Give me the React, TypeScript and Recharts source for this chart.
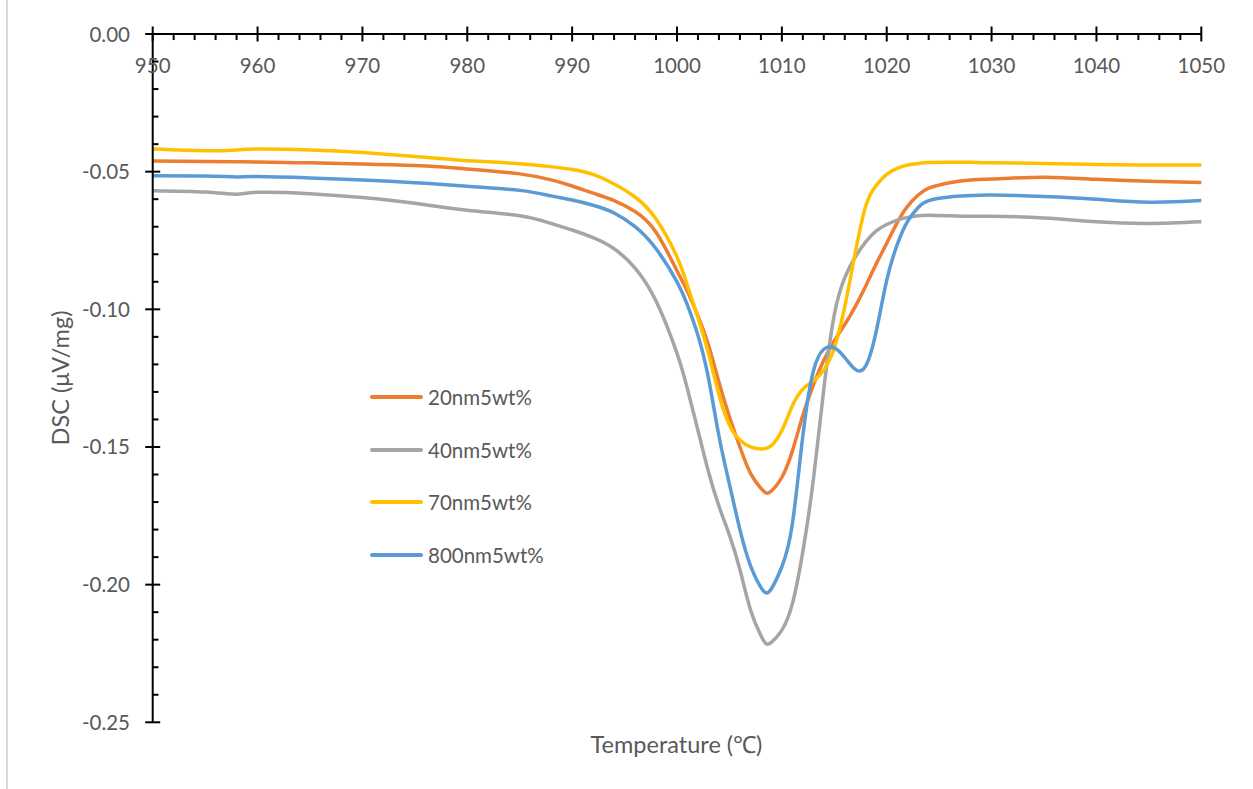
import React from "react";
import { LineChart, Line, XAxis, YAxis, ReferenceLine } from "recharts";

const temps = [950,955,958,960,965,970,975,980,985,988,990,992,994,996,998,1000,1001,1002,1003,1004,1005,1006,1007,1008,1008.5,1009,1010,1011,1012,1013,1014,1015,1016,1017,1018,1019,1020,1021,1022,1023,1024,1026,1028,1030,1035,1040,1045,1050];

const s20nm = [-0.0461,-0.0463,-0.0464,-0.0465,-0.0468,-0.0472,-0.0478,-0.0490,-0.0508,-0.0530,
  -0.0552,-0.0578,-0.0605,-0.0645,-0.0720,-0.0860,-0.0935,-0.1025,-0.1130,-0.1265,
  -0.1390,-0.1500,-0.1595,-0.1650,-0.1667,-0.1660,-0.1610,-0.1515,-0.1385,-0.1275,
  -0.1185,-0.1115,-0.1055,-0.0990,-0.0915,-0.0835,-0.0760,-0.0685,-0.0625,-0.0585,
  -0.0560,-0.0540,-0.0530,-0.0527,-0.0520,-0.0528,-0.0535,-0.0539];

const s40nm = [-0.0569,-0.0574,-0.0582,-0.0575,-0.0580,-0.0594,-0.0615,-0.0640,-0.0660,-0.0688,
  -0.0712,-0.0740,-0.0780,-0.0850,-0.0970,-0.1160,-0.1290,-0.1440,-0.1590,-0.1715,
  -0.1820,-0.1945,-0.2090,-0.2185,-0.2215,-0.2210,-0.2165,-0.2070,-0.1880,-0.1620,
  -0.1290,-0.1020,-0.0885,-0.0810,-0.0755,-0.0715,-0.0692,-0.0676,-0.0666,-0.0660,
  -0.0658,-0.0660,-0.0662,-0.0662,-0.0668,-0.0682,-0.0688,-0.0682];

const s70nm = [-0.0418,-0.0424,-0.0421,-0.0418,-0.0421,-0.0430,-0.0445,-0.0460,-0.0471,-0.0482,
  -0.0492,-0.0510,-0.0545,-0.0592,-0.0672,-0.0810,-0.0915,-0.1030,-0.1160,-0.1310,
  -0.1420,-0.1475,-0.1500,-0.1507,-0.1505,-0.1495,-0.1440,-0.1350,-0.1290,-0.1260,
  -0.1220,-0.1140,-0.0990,-0.0795,-0.0625,-0.0550,-0.0510,-0.0488,-0.0476,-0.0470,
  -0.0467,-0.0466,-0.0466,-0.0468,-0.0470,-0.0474,-0.0476,-0.0476];

const s800nm = [-0.0515,-0.0516,-0.0519,-0.0518,-0.0523,-0.0530,-0.0540,-0.0553,-0.0568,-0.0588,
  -0.0603,-0.0622,-0.0650,-0.0700,-0.0780,-0.0900,-0.0985,-0.1095,-0.1250,-0.1460,
  -0.1635,-0.1800,-0.1930,-0.2010,-0.2030,-0.2015,-0.1935,-0.1780,-0.1460,-0.1225,
  -0.1145,-0.1140,-0.1175,-0.1218,-0.1205,-0.1080,-0.0895,-0.0765,-0.0680,-0.0630,
  -0.0605,-0.0592,-0.0587,-0.0585,-0.0590,-0.0600,-0.0611,-0.0605];

const xTicks = [950,960,970,980,990,1000,1010,1020,1030,1040,1050];
const yTicks = [0,-0.05,-0.1,-0.15,-0.2,-0.25];

const seriesNames = ["20nm5wt%","40nm5wt%","70nm5wt%","800nm5wt%"];
const seriesKeys = ["a","b","c","d"];
const seriesColors = ["#ED7D31","#A5A5A5","#FFC000","#5B9BD5"];

const data = temps.map((t, i) => ({ t, a: s20nm[i], b: s40nm[i], c: s70nm[i], d: s800nm[i] }));

const xMinor: number[] = [];
for (let v = 952; v < 1050; v += 2) if ((v - 950) % 10 !== 0) xMinor.push(v);
const yMinor: number[] = [];
for (let k = 1; k < 25; k++) if (k % 5 !== 0) yMinor.push(-k / 100);

const FONT = "Lato, 'Open Sans', sans-serif";
const TXT = "#595959";

const XTick = (props: any) => {
  const { x, y, payload } = props;
  return (
    <g>
      <line x1={x} x2={x} y1={y - 7.5} y2={y + 7.5} stroke="#000" strokeWidth={2} />
      <text x={x} y={y + 39} textAnchor="middle" fill={TXT} fontSize={20.5} fontFamily={FONT}>{payload.value}</text>
    </g>
  );
};

const YTick = (props: any) => {
  const { x, y, payload } = props;
  return (
    <g>
      <line x1={x - 7.5} x2={x + 7.5} y1={y} y2={y} stroke="#000" strokeWidth={2} />
      <text x={x - 22.7} y={y + 7.5} textAnchor="end" fill={TXT} fontSize={20.5} fontFamily={FONT}>{Number(payload.value).toFixed(2)}</text>
    </g>
  );
};

export default function App() {
  return (
    <div style={{ position: "absolute", left: 0, top: 0, width: 1253, height: 789, background: "#fff", fontFamily: FONT }}>
      <div style={{ position: "absolute", left: 6, top: 0, width: 2, height: 789, background: "#d9d9d9" }} />
      <LineChart width={1253} height={789} data={data} margin={{ top: 0, right: 51.7, bottom: 66.7, left: 0 }}>
        <XAxis dataKey="t" type="number" orientation="top" domain={[950, 1050]} ticks={xTicks}
          height={34} axisLine={{ stroke: "#000", strokeWidth: 2 }} tickLine={false} tickSize={0} tickMargin={0}
          tick={<XTick />} interval={0} allowDataOverflow />
        <YAxis type="number" domain={[-0.25, 0]} ticks={yTicks} width={152.7}
          axisLine={{ stroke: "#000", strokeWidth: 2 }} tickLine={false} tickSize={0} tickMargin={0}
          tick={<YTick />} interval={0} allowDataOverflow />
        {xMinor.map((v) => (
          <ReferenceLine key={"xm" + v} segment={[{ x: v, y: 0 }, { x: v, y: -0.0022 }]} stroke="#000" strokeWidth={2} />
        ))}
        {yMinor.map((v) => (
          <ReferenceLine key={"ym" + v} segment={[{ x: 950, y: v }, { x: 950.55, y: v }]} stroke="#000" strokeWidth={2} />
        ))}
        {seriesKeys.map((k, i) => (
          <Line key={k} dataKey={k} name={seriesNames[i]} type="natural" stroke={seriesColors[i]} strokeWidth={3.5}
            dot={false} activeDot={false} isAnimationActive={false} strokeLinecap="round" />
        ))}
      </LineChart>
      {seriesNames.map((n, i) => (
        <div key={n} style={{ position: "absolute", left: 370, top: 396.7 + i * 52.8 - 15, height: 30, display: "flex", alignItems: "center" }}>
          <div style={{ width: 53, height: 4, borderRadius: 2, background: seriesColors[i] }} />
          <span style={{ marginLeft: 5, fontSize: 20.5, color: TXT, fontFamily: FONT, lineHeight: "30px" }}>{n}</span>
        </div>
      ))}
      <div style={{ position: "absolute", left: 60, top: 378, transform: "translate(-50%,-50%) rotate(-90deg)", whiteSpace: "nowrap", fontSize: 23.5, color: TXT, fontFamily: FONT }}>
        DSC (μV/mg)
      </div>
      <div style={{ position: "absolute", left: 676.5, top: 744, transform: "translate(-50%,-50%)", whiteSpace: "nowrap", fontSize: 23.5, color: TXT, fontFamily: FONT }}>
        Temperature (℃)
      </div>
    </div>
  );
}
